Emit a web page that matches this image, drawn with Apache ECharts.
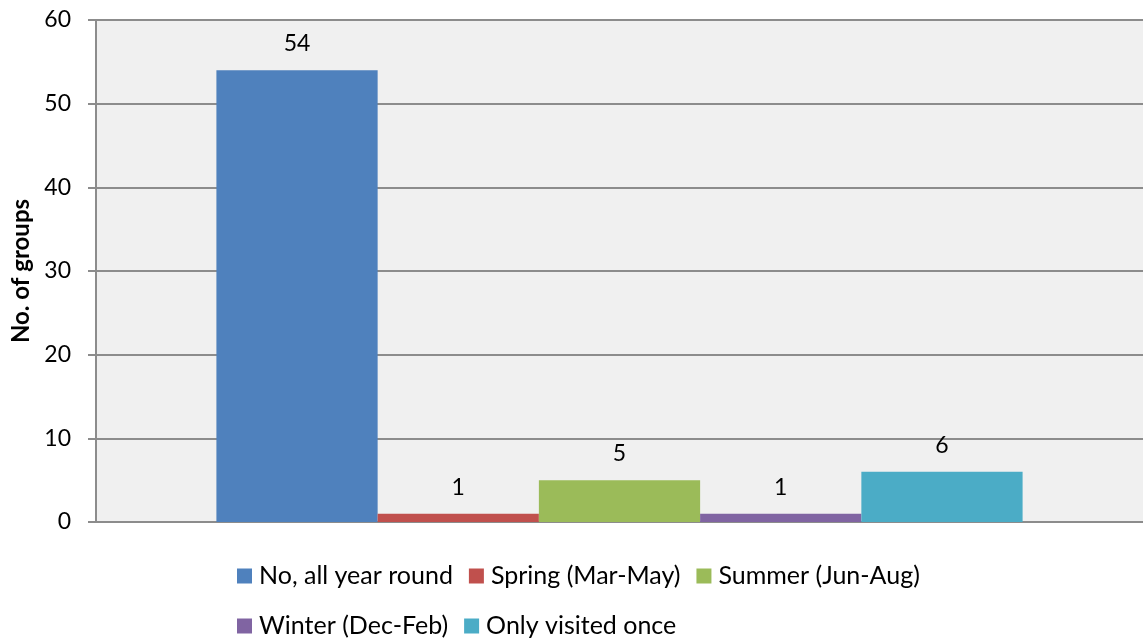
<!DOCTYPE html>
<html>
<head>
<meta charset="utf-8">
<script src="https://cdn.jsdelivr.net/npm/echarts@6/dist/echarts.min.js"></script>
<style>html,body{margin:0;padding:0;background:#fff}#c{width:1143px;height:638px}</style>
</head>
<body>
<div id="c"></div>
<script>
const categories = [''];
const seriesNames = ['No, all year round', 'Spring (Mar-May)', 'Summer (Jun-Aug)', 'Winter (Dec-Feb)', 'Only visited once'];
const seriesValues = [54, 1, 5, 1, 6];
const seriesColors = ['#4f81bd', '#c0504d', '#9bbb59', '#8064a2', '#4bacc6'];
const yTicks = { min: 0, max: 60, interval: 10 };
const yTitle = 'No. of groups';

const FONT = 'Lato, "Open Sans", sans-serif';
const chart = echarts.init(document.getElementById('c'), null, { renderer: 'canvas' });
chart.setOption({
  animation: false,
  grid: { left: 96, right: 0, top: 20, bottom: 116, show: true, backgroundColor: '#f0f0f0', borderWidth: 0 },
  legend: {
    left: 237, top: 559, width: 720, padding: 0,
    itemWidth: 15, itemHeight: 15, itemGap: 16,
    icon: 'rect',
    textStyle: { fontFamily: FONT, fontSize: 25, color: '#000', lineHeight: 34, padding: [0, 0, 0, 2] },
    data: seriesNames
  },
  xAxis: {
    type: 'category', data: categories,
    axisLine: { show: true, lineStyle: { color: '#8c8c8c', width: 2 } },
    axisTick: { show: false }, axisLabel: { show: false }
  },
  yAxis: {
    type: 'value', min: yTicks.min, max: yTicks.max, interval: yTicks.interval,
    name: yTitle, nameLocation: 'middle', nameGap: 63, nameRotate: 90,
    nameTextStyle: { fontFamily: FONT, fontSize: 24, fontWeight: 'bold', color: '#000' },
    axisLine: { show: true, lineStyle: { color: '#8c8c8c', width: 2 } },
    axisTick: { show: true, length: 8, lineStyle: { color: '#8c8c8c', width: 2 } },
    axisLabel: { fontFamily: FONT, fontSize: 23, color: '#000', margin: 25 },
    splitLine: { show: true, lineStyle: { color: '#8c8c8c', width: 2 } }
  },
  series: seriesNames.map((n, i) => ({
    name: n, type: 'bar',
    data: [seriesValues[i]],
    itemStyle: { color: seriesColors[i] },
    barGap: '0%', barCategoryGap: '23%',
    label: { show: true, position: 'top', distance: 15, fontFamily: FONT, fontSize: 23, color: '#000' }
  }))
});
</script>
</body>
</html>
